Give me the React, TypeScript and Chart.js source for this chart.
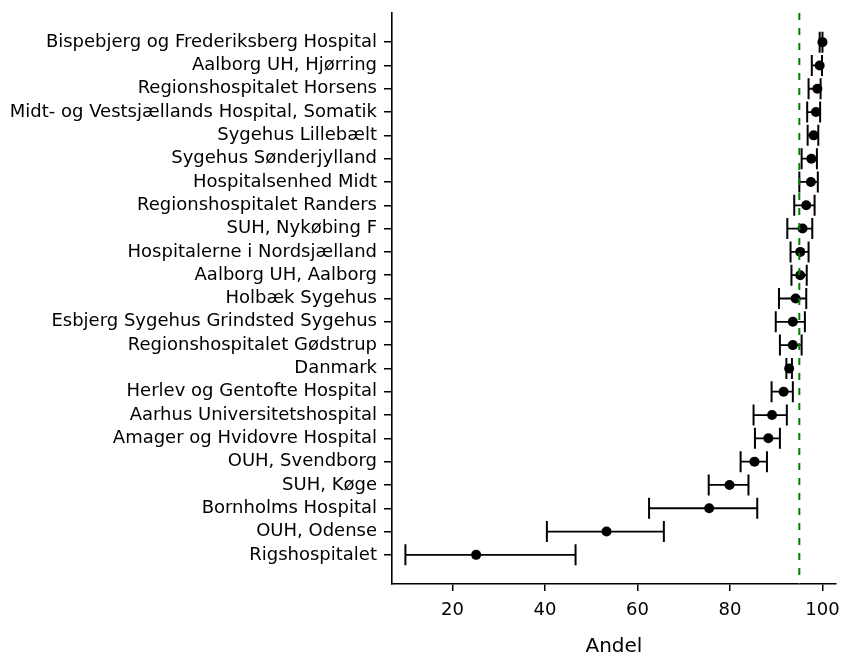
import React, { useEffect, useRef } from "react";
import { Chart, registerables } from "chart.js";

Chart.register(...registerables);

const hospitals = [
  "Bispebjerg og Frederiksberg Hospital",
  "Aalborg UH, Hjørring",
  "Regionshospitalet Horsens",
  "Midt- og Vestsjællands Hospital, Somatik",
  "Sygehus Lillebælt",
  "Sygehus Sønderjylland",
  "Hospitalsenhed Midt",
  "Regionshospitalet Randers",
  "SUH, Nykøbing F",
  "Hospitalerne i Nordsjælland",
  "Aalborg UH, Aalborg",
  "Holbæk Sygehus",
  "Esbjerg Sygehus Grindsted Sygehus",
  "Regionshospitalet Gødstrup",
  "Danmark",
  "Herlev og Gentofte Hospital",
  "Aarhus Universitetshospital",
  "Amager og Hvidovre Hospital",
  "OUH, Svendborg",
  "SUH, Køge",
  "Bornholms Hospital",
  "OUH, Odense",
  "Rigshospitalet",
];

const andel = [100, 99.4, 98.9, 98.6, 98.1, 97.6, 97.5, 96.5, 95.7, 95.2, 95.2, 94.2, 93.6, 93.6, 92.8, 91.6, 89.1, 88.3, 85.3, 79.9, 75.5, 53.3, 25.1];
const lower = [99.4, 97.7, 97.0, 96.7, 96.8, 95.5, 95.0, 93.9, 92.4, 93.1, 93.3, 90.6, 89.9, 90.8, 92.2, 89.0, 85.1, 85.4, 82.3, 75.4, 62.5, 40.4, 9.8];
const upper = [100, 99.9, 99.6, 99.5, 99.1, 98.8, 99.0, 98.3, 97.8, 97.0, 96.6, 96.5, 96.2, 95.5, 93.4, 93.6, 92.3, 90.8, 88.0, 84.0, 85.9, 65.7, 46.6];

const target = 95;
const xTicks = [20, 40, 60, 80, 100];

const FONT = "'DejaVu Sans', sans-serif";
const CANVAS_W = 849;

export default function App() {
  const ref = useRef<HTMLCanvasElement | null>(null);

  useEffect(() => {
    if (!ref.current) return;
    const yMin = -1.25;
    const yMax = hospitals.length - 1 + 1.25;

    const ciDatasets = hospitals.map((_, i) => ({
      type: "scatter" as const,
      data: [
        { x: lower[i], y: i },
        { x: upper[i], y: i },
      ],
      showLine: true,
      borderColor: "#000",
      borderWidth: 1.8,
      pointRadius: 0,
      order: 3,
    }));

    const caps = {
      type: "scatter" as const,
      data: hospitals.flatMap((_, i) => [
        { x: lower[i], y: i },
        { x: upper[i], y: i },
      ]),
      pointStyle: "line" as const,
      rotation: 90,
      pointRadius: 10.5,
      borderColor: "#000",
      borderWidth: 2,
      backgroundColor: "#000",
      order: 2,
    };

    const dots = {
      type: "scatter" as const,
      data: hospitals.map((_, i) => ({ x: andel[i], y: i })),
      pointRadius: 5,
      backgroundColor: "#000",
      borderWidth: 0,
      order: 1,
    };

    const targetLine = {
      type: "scatter" as const,
      data: [
        { x: target, y: yMin },
        { x: target, y: yMax },
      ],
      showLine: true,
      borderColor: "#008000",
      borderWidth: 2,
      borderDash: [7, 8],
      pointRadius: 0,
      order: 0,
    };

    const chart = new Chart(ref.current, {
      type: "scatter",
      data: { datasets: [targetLine, dots, caps, ...ciDatasets] as any },
      options: {
        animation: false,
        responsive: false,
        maintainAspectRatio: false,
        layout: { padding: { top: 13, right: 6, left: 0, bottom: 0 } },
        plugins: { legend: { display: false }, tooltip: { enabled: false } },
        scales: {
          x: {
            type: "linear",
            min: 6.9,
            max: 102.9,
            afterBuildTicks: (s: any) => {
              s.ticks = xTicks.map((v) => ({ value: v }));
            },
            afterFit: (s: any) => {
              s.height = 73;
            },
            ticks: {
              font: { family: FONT, size: 18 },
              color: "#000",
              padding: 9,
              autoSkip: false,
              maxRotation: 0,
            },
            grid: {
              display: true,
              drawOnChartArea: false,
              drawTicks: true,
              tickLength: 7,
              color: "#000",
              lineWidth: 1.5,
            },
            border: { display: true, color: "#000", width: 1.6 },
            title: {
              display: true,
              text: "Andel",
              font: { family: FONT, size: 20, lineHeight: 1 },
              color: "#000",
              padding: { top: 0, bottom: 0 },
            },
          },
          y: {
            type: "linear",
            min: yMin,
            max: yMax,
            reverse: true,
            afterBuildTicks: (s: any) => {
              s.ticks = hospitals.map((_, i) => ({ value: i }));
            },
            afterFit: (s: any) => {
              s.width = 392;
              s.paddingTop = 0;
              s.paddingBottom = 0;
            },
            ticks: {
              font: { family: FONT, size: 18 },
              color: "#000",
              padding: 7,
              autoSkip: false,
              callback: (v: any) => hospitals[Number(v)] ?? "",
            },
            grid: {
              display: true,
              drawOnChartArea: false,
              drawTicks: true,
              tickLength: 8,
              color: "#000",
              lineWidth: 1.5,
            },
            border: { display: true, color: "#000", width: 1.6 },
          },
        },
      },
    });
    return () => chart.destroy();
  }, []);

  return (
    <div style={{ position: "fixed", left: 0, top: 0, width: 842, height: 657, overflow: "hidden", background: "#fff" }}>
      <canvas ref={ref} width={CANVAS_W} height={657} style={{ width: CANVAS_W, height: 657, display: "block" }} />
    </div>
  );
}
